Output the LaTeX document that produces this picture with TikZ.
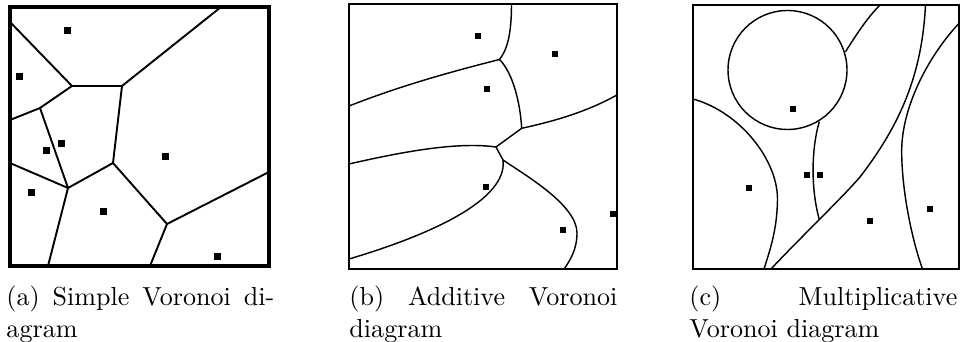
\documentclass[tikz,border=0pt]{standalone}
\usepackage{tikz}

\tikzset{
  cellline/.style={line width=0.8pt},
  curveline/.style={line width=0.6pt},
  frameline/.style={line width=0.8pt},
  captext/.style={anchor=north west, inner sep=0pt, text width=112.5pt, align=justify,
    font=\fontsize{10.95}{13.6}\selectfont},
}

\begin{document}
\begin{tikzpicture}[x=0.42pt, y=-0.42pt]
  \useasboundingbox (0,0) rectangle (963,342);

  % (a) Simple Voronoi diagram
  \coordinate (aTop) at (221,7);
  \coordinate (aL1) at (10,22);
  \coordinate (aA) at (72,86);
  \coordinate (aB) at (122,86);
  \coordinate (aC) at (40,108);
  \coordinate (aL2) at (10,120);
  \coordinate (aD) at (113,163);
  \coordinate (aE) at (68,188);
  \coordinate (aL3) at (10,163);
  \coordinate (aBot1) at (48,266);
  \coordinate (aF) at (167,224);
  \coordinate (aR) at (269,172);
  \coordinate (aBot2) at (150,266);
  \draw[cellline] (aTop) -- (aB) -- (aA) -- (aL1);
  \draw[cellline] (aA) -- (aC) -- (aL2);
  \draw[cellline] (aC) -- (aE);
  \draw[cellline] (aB) -- (aD) -- (aE) -- (aL3);
  \draw[cellline] (aE) -- (aBot1);
  \draw[cellline] (aD) -- (aF) -- (aR);
  \draw[cellline] (aF) -- (aBot2);
  \draw[line width=1.3pt] (10,7) rectangle (269,266);
  \foreach \x/\y in {67/31, 19/77, 61/144, 46/151, 165/157, 31/193, 103/212, 217/257}
    \fill (\x-3.5,\y-3.5) rectangle (\x+3.5,\y+3.5);

  % (b) Additive Voronoi diagram
  \coordinate (bV1) at (499.5,59.5);
  \coordinate (bV2) at (521.7,128.3);
  \coordinate (bV3) at (496,147);
  \coordinate (bV4) at (503,160);
  \draw[curveline] (511.5,4) .. controls (511.5,35) and (507,50) .. (bV1);
  \draw[curveline] (bV1) .. controls (450,72) and (400,86) .. (349,106);
  \draw[curveline] (bV1) .. controls (512,72) and (520,100) .. (bV2);
  \draw[curveline] (bV2) .. controls (560,120) and (590,110) .. (617,95);
  \draw[curveline] (bV2) -- (bV3) -- (bV4);
  \draw[curveline] (bV3) .. controls (460,142) and (410,150) .. (349,164);
  \draw[curveline] (bV4) .. controls (508,200) and (430,235) .. (349,259);
  \draw[curveline] (bV4) .. controls (525,175) and (577,205) .. (577,233)
    .. controls (577,250) and (570,260) .. (564.3,269);
  \draw[frameline] (349,4) rectangle (617,269);
  \foreach \x/\y in {478/36, 555/54, 487/89, 486/187, 563/230, 613/214}
    \fill (\x-3,\y-3) rectangle (\x+3,\y+3);

  % (c) Multiplicative Voronoi diagram
  \draw[curveline] (787.5,70) circle (59.5);
  \draw[curveline] (845.5,51.7) .. controls (858,32) and (868,17) .. (880,5);
  \draw[curveline] (925.5,5) .. controls (922,75) and (900,125) .. (860,177)
    .. controls (840,200) and (800,238) .. (771,269);
  \draw[curveline] (819.3,121.7) .. controls (811,150) and (811,190) .. (819.3,219.5);
  \draw[curveline] (693,99) .. controls (740,112) and (778,160) .. (777.5,200)
    .. controls (777,230) and (770,250) .. (764,269);
  \draw[curveline] (959,23.3) .. controls (925,60) and (902,110) .. (901.7,150)
    .. controls (901.5,190) and (912,240) .. (922.5,269);
  \draw[frameline] (693,5) rectangle (959,269);
  \foreach \x/\y in {793/109, 806.7/175, 820/175, 749/188, 870/221, 930/209}
    \fill (\x-3,\y-3) rectangle (\x+3,\y+3);

  % captions
  \node[captext] (capA) at (6,285.5) {(a) Simple Voronoi di-\linebreak agram};
  \node[captext] (capB) at (349,285.5) {(b) Additive Voronoi\linebreak diagram};
  \node[captext] (capC) at (689,285.5) {(c) Multiplicative\linebreak Voronoi diagram};
\end{tikzpicture}
\end{document}
